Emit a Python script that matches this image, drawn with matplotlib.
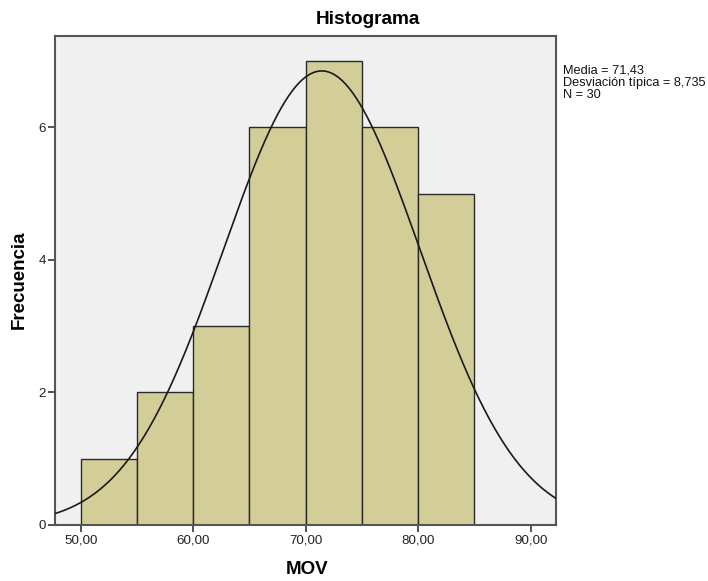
import numpy as np
import matplotlib.pyplot as plt

plt.rcParams['font.family'] = ['Liberation Sans', 'DejaVu Sans']

# Histogram data (bin edges every 5 units)
bin_edges = [50, 55, 60, 65, 70, 75, 80, 85]
counts = [1, 2, 3, 6, 7, 6, 5]

# Summary statistics shown in the legend
media = 71.43
desv = 8.735
n_total = 30

xticks = [50, 60, 70, 80, 90]
yticks = [0, 2, 4, 6]

fig = plt.figure(figsize=(7.08, 5.81), dpi=100)
ax = fig.add_axes([0.0781, 0.0964, 0.7072, 0.8417])
ax.set_facecolor('#f0f0f0')

widths = np.diff(bin_edges)
ax.bar(bin_edges[:-1], counts, width=widths, align='edge',
       color='#d3ce98', edgecolor='#2a2a2a', linewidth=1.0, zorder=2)

# Normal curve scaled to counts
xs = np.linspace(47.75, 92.25, 400)
ys = n_total * widths[0] * np.exp(-0.5 * ((xs - media) / desv) ** 2) / (desv * np.sqrt(2 * np.pi))
ax.plot(xs, ys, color='#1a1a1a', linewidth=1.2, zorder=3)

ax.set_xlim(47.75, 92.25)
ax.set_ylim(0, 7.378)
ax.set_xticks(xticks)
ax.set_xticklabels([f'{v},00' for v in xticks])
ax.set_yticks(yticks)
ax.tick_params(axis='both', direction='out', length=5, width=1.2,
               color='#333333', labelsize=9.6, labelcolor='#222222', pad=2)

for s in ax.spines.values():
    s.set_color('#555555')
    s.set_linewidth(1.5)

fig.text(0.4336, 0.019, 'MOV', ha='center', va='center',
         fontsize=13.5, fontweight='bold')
fig.text(0.0275, 0.518, 'Frecuencia', ha='center', va='center',
         rotation=90, fontsize=13.5, fontweight='bold')
fig.text(0.52, 0.9656, 'Histograma', ha='center', va='center',
         fontsize=13.7, fontweight='bold')

stats = f'Media = {media:.2f}'.replace('.', ',') + '\n' + \
        f'Desviación típica = {desv:.3f}'.replace('.', ',') + '\n' + \
        f'N = {n_total}'
fig.text(0.795, 0.889, stats, ha='left', va='top', fontsize=9.2,
         linespacing=1.02, color='#111111')

fig.savefig('out.png', dpi=100)
